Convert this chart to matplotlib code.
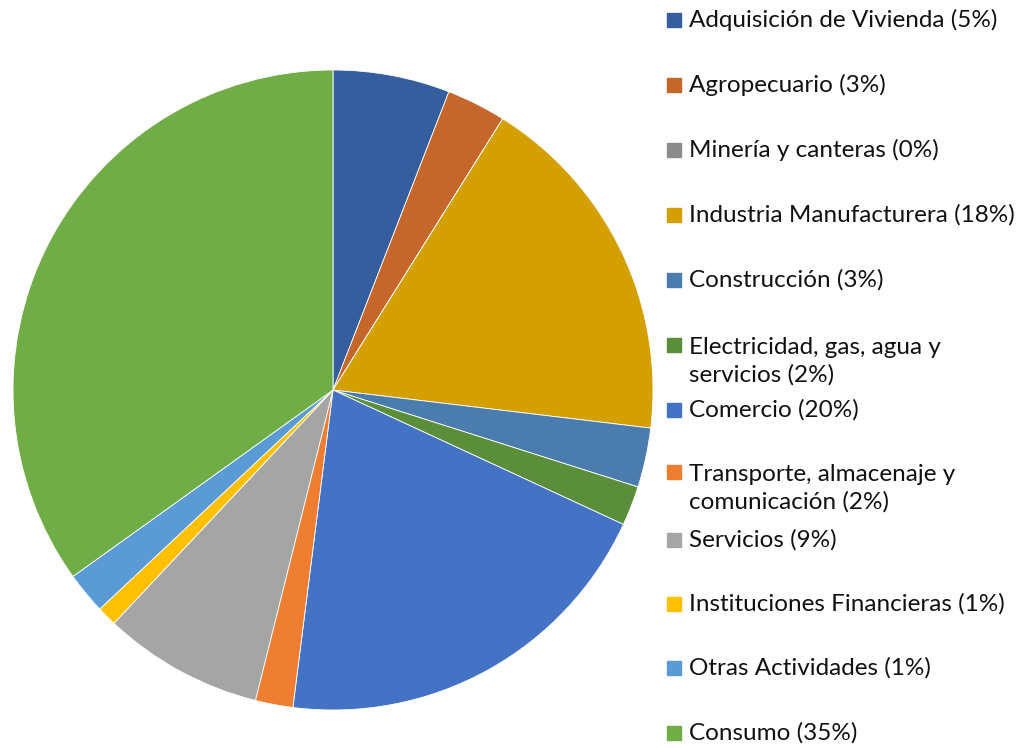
import matplotlib.pyplot as plt
from matplotlib.patches import Rectangle

# sectors, shares (%)
sectores = ["Adquisición de Vivienda (5%)", "Agropecuario (3%)", "Minería y canteras (0%)",
            "Industria Manufacturera (18%)", "Construcción (3%)",
            "Electricidad, gas, agua y\nservicios (2%)", "Comercio (20%)",
            "Transporte, almacenaje y\ncomunicación (2%)", "Servicios (9%)",
            "Instituciones Financieras (1%)", "Otras Actividades (1%)", "Consumo (35%)"]
valores = [5.9, 3.0, 0.0, 18.0, 3.0, 2.0, 20.1, 1.9, 8.1, 1.0, 2.1, 34.9]
colores = ["#355E9F", "#C5662A", "#8B8B8B", "#D4A000", "#4A7CAD", "#5B8E3A",
           "#4472C4", "#ED7D31", "#A5A5A5", "#FFC000", "#5B9BD5", "#70AD47"]

# legend row centres (pixels from top)
filas_y = [20, 85, 150, 215, 280, 361, 410, 488, 540, 604, 668, 733]

W, H = 1024, 748
fig = plt.figure(figsize=(W / 100, H / 100), dpi=100)
ax = fig.add_axes([13 / W, 38 / H, 640 / W, 640 / H])
ax.pie(valores, colors=colores, startangle=90, counterclock=False,
       wedgeprops=dict(linewidth=0.6, edgecolor="white"))
ax.set_xlim(-1, 1)
ax.set_ylim(-1, 1)
ax.set_aspect("equal")
ax.axis("off")

for etiqueta, color, y in zip(sectores, colores, filas_y):
    nl = etiqueta.count("\n")
    ytop = y - nl * 16
    fig.patches.append(Rectangle((667 / W, 1 - (ytop + 7) / H), 14 / W, 14 / H,
                                 transform=fig.transFigure, color=color))
    fig.text(689 / W, 1 - y / H, etiqueta, fontsize=17.5, family="Lato",
             va="center", ha="left", color="#111111", linespacing=1.35)

fig.savefig("out.png", dpi=100)
